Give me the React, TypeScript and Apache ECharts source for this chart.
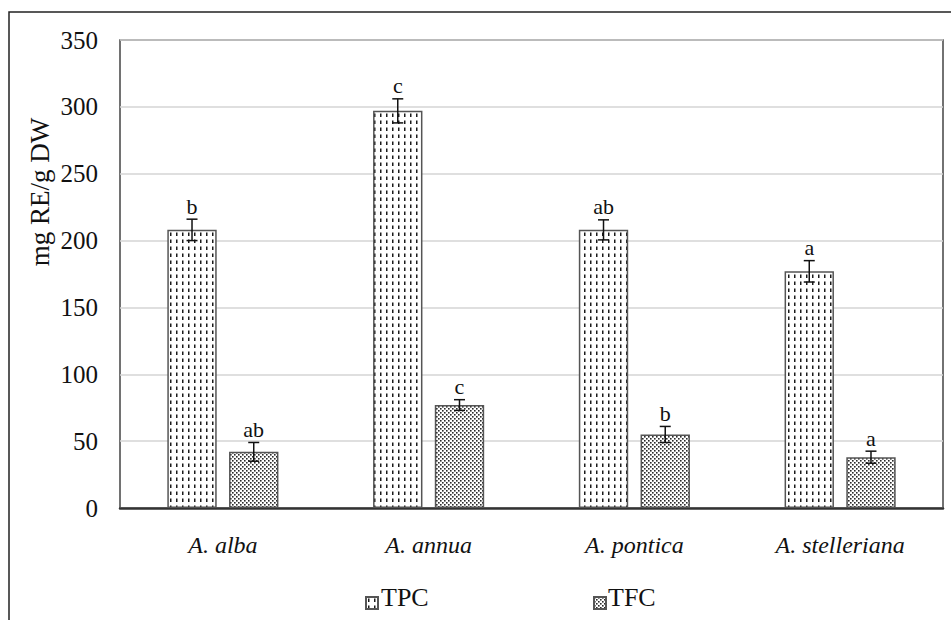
import React, { useEffect, useRef } from "react";
import * as echarts from "echarts";

const categories = ["A. alba", "A. annua", "A. pontica", "A. stelleriana"];
const seriesNames = ["TPC", "TFC"];
const tpcValues = [208, 297, 208, 177];
const tpcErrors = [8, 9, 7.5, 8];
const tpcLetters = ["b", "c", "ab", "a"];
const tfcValues = [42, 77, 55, 38];
const tfcErrors = [7, 4, 6, 4.5];
const tfcLetters = ["ab", "c", "b", "a"];
const yMin = 0;
const yMax = 350;
const yInterval = 50;
const yTickLabels = ["0", "50", "100", "150", "200", "250", "300", "350"];
const yAxisTitle = "mg RE/g DW";

const FONT = "Liberation Serif";

function makeDashPattern(): HTMLCanvasElement {
  const c = document.createElement("canvas");
  c.width = 6;
  c.height = 7;
  const ctx = c.getContext("2d")!;
  ctx.fillStyle = "#ffffff";
  ctx.fillRect(0, 0, 6, 7);
  ctx.fillStyle = "#1a1a1a";
  ctx.fillRect(2, 1.5, 1.5, 3.5);
  return c;
}

function makeDotPattern(): HTMLCanvasElement {
  const c = document.createElement("canvas");
  c.width = 4;
  c.height = 4;
  const ctx = c.getContext("2d")!;
  ctx.fillStyle = "#ffffff";
  ctx.fillRect(0, 0, 4, 4);
  ctx.fillStyle = "#2a2a2a";
  ctx.fillRect(0, 0, 1.6, 1.6);
  ctx.fillRect(2, 2, 1.6, 1.6);
  return c;
}

function serifText(text: string, x: number, y: number, size: number, align: string, extra: any = {}, family: string = FONT) {
  return {
    type: "text",
    x,
    y,
    rotation: 2 * Math.PI,
    style: {
      text,
      x: 0,
      y: 0,
      align,
      verticalAlign: "middle",
      fontFamily: family,
      fontSize: size,
      fill: "#111",
      ...extra,
    },
  };
}

function errorSeries(name: string, values: number[], errors: number[], letters: string[], sign: number) {
  return {
    type: "custom",
    name,
    z: 5,
    silent: true,
    data: values.map((v, i) => [i, v, errors[i]]),
    renderItem: (params: any, api: any) => {
      const i = api.value(0);
      const v = api.value(1);
      const e = api.value(2);
      const band = api.size([1, 0])[0];
      const x = api.coord([i, 0])[0] + sign * band * 0.15;
      const yTop = api.coord([i, v + e])[1];
      const yBot = api.coord([i, v - e])[1];
      const ls = { stroke: "#111", lineWidth: 1.5 };
      return {
        type: "group",
        children: [
          { type: "line", shape: { x1: x, y1: yTop, x2: x, y2: yBot }, style: ls },
          { type: "line", shape: { x1: x - 5.5, y1: yTop, x2: x + 5.5, y2: yTop }, style: ls },
          { type: "line", shape: { x1: x - 5.5, y1: yBot, x2: x + 5.5, y2: yBot }, style: ls },
          {
            type: "text",
            style: {
              text: letters[i],
              x,
              y: yTop - 2,
              align: "center",
              verticalAlign: "bottom",
              fontFamily: FONT,
              fontSize: 22,
              fill: "#111",
            },
          },
        ],
      };
    },
  };
}

// y-axis tick labels placed through the axis scale
const yLabelSeries = {
  type: "custom",
  name: "y labels",
  silent: true,
  data: yTickLabels.map((t) => [0, Number(t)]),
  renderItem: (params: any, api: any) => {
    const v = api.value(1);
    const p = api.coord([0, v]);
    const band = api.size([1, 0])[0];
    return serifText(yTickLabels[params.dataIndex], p[0] - band / 2 - 22, p[1], 25, "right");
  },
};

// category labels placed through the category axis
const xLabelSeries = {
  type: "custom",
  name: "x labels",
  silent: true,
  data: categories.map((c, i) => [i, 0]),
  renderItem: (params: any, api: any) => {
    const i = api.value(0);
    const p = api.coord([i, 0]);
    return serifText(categories[i], p[0], p[1] + 37, 24, "center", { fontStyle: "italic" });
  },
};

export default function App() {
  const ref = useRef<HTMLDivElement>(null);
  useEffect(() => {
    document.body.style.margin = "0";
    if (!ref.current) return;
    const chart = echarts.init(ref.current, null, { renderer: "svg" });
    const dash = makeDashPattern();
    const dots = makeDotPattern();
    const tpcColor: any = { image: dash, repeat: "repeat", imageWidth: 6, imageHeight: 7 };
    const tfcColor: any = { image: dots, repeat: "repeat", imageWidth: 4, imageHeight: 4 };
    const legendBase = {
      top: 591,
      itemWidth: 12,
      itemHeight: 12,
      icon: "rect",
      selectedMode: false,
      formatter: () => "",
      textStyle: { fontSize: 1 },
    };
    chart.setOption({
      animation: false,
      backgroundColor: "#ffffff",
      textStyle: { fontFamily: FONT },
      grid: {
        left: 120,
        right: 8,
        top: 40,
        bottom: 112,
        show: true,
        borderColor: "#444",
        borderWidth: 1.5,
        backgroundColor: "transparent",
      },
      legend: [
        { ...legendBase, data: [seriesNames[0]], left: 360 },
        { ...legendBase, data: [seriesNames[1]], left: 588 },
      ],
      graphic: [
        {
          type: "rect",
          shape: { x: 9, y: 12, width: 1000, height: 700 },
          style: { fill: "none", stroke: "#222", lineWidth: 1.5 },
          silent: true,
        },
        {
          type: "text",
          x: 40,
          y: 192,
          rotation: Math.PI / 2,
          style: {
            text: yAxisTitle,
            x: 0,
            y: 0,
            align: "center",
            verticalAlign: "middle",
            fontFamily: FONT,
            fontSize: 27,
            fill: "#111",
          },
        },
        serifText(seriesNames[0], 381, 597, 26, "left", {}, "Times New Roman"),
        serifText(seriesNames[1], 608, 597, 26, "left", {}, "Times New Roman"),
      ],
      xAxis: {
        type: "category",
        data: categories,
        axisLine: { lineStyle: { color: "#333", width: 2.5 } },
        axisTick: { show: false },
        axisLabel: { show: false },
      },
      yAxis: {
        type: "value",
        min: yMin,
        max: yMax,
        interval: yInterval,
        axisLine: { show: false },
        axisTick: { show: false },
        splitLine: { lineStyle: { color: "#d4d4d4", width: 1.5 } },
        axisLabel: { show: false },
      },
      series: [
        {
          type: "bar",
          name: seriesNames[0],
          data: tpcValues,
          barWidth: "24%",
          barGap: "25%",
          itemStyle: { color: tpcColor, borderColor: "#555", borderWidth: 1.5 },
        },
        {
          type: "bar",
          name: seriesNames[1],
          data: tfcValues,
          barWidth: "24%",
          barGap: "25%",
          itemStyle: { color: tfcColor, borderColor: "#555", borderWidth: 1.5 },
        },
        errorSeries("TPC error", tpcValues, tpcErrors, tpcLetters, -1),
        errorSeries("TFC error", tfcValues, tfcErrors, tfcLetters, 1),
        yLabelSeries,
        xLabelSeries,
      ],
    });
    return () => chart.dispose();
  }, []);
  return <div ref={ref} style={{ width: 951, height: 620 }} />;
}
